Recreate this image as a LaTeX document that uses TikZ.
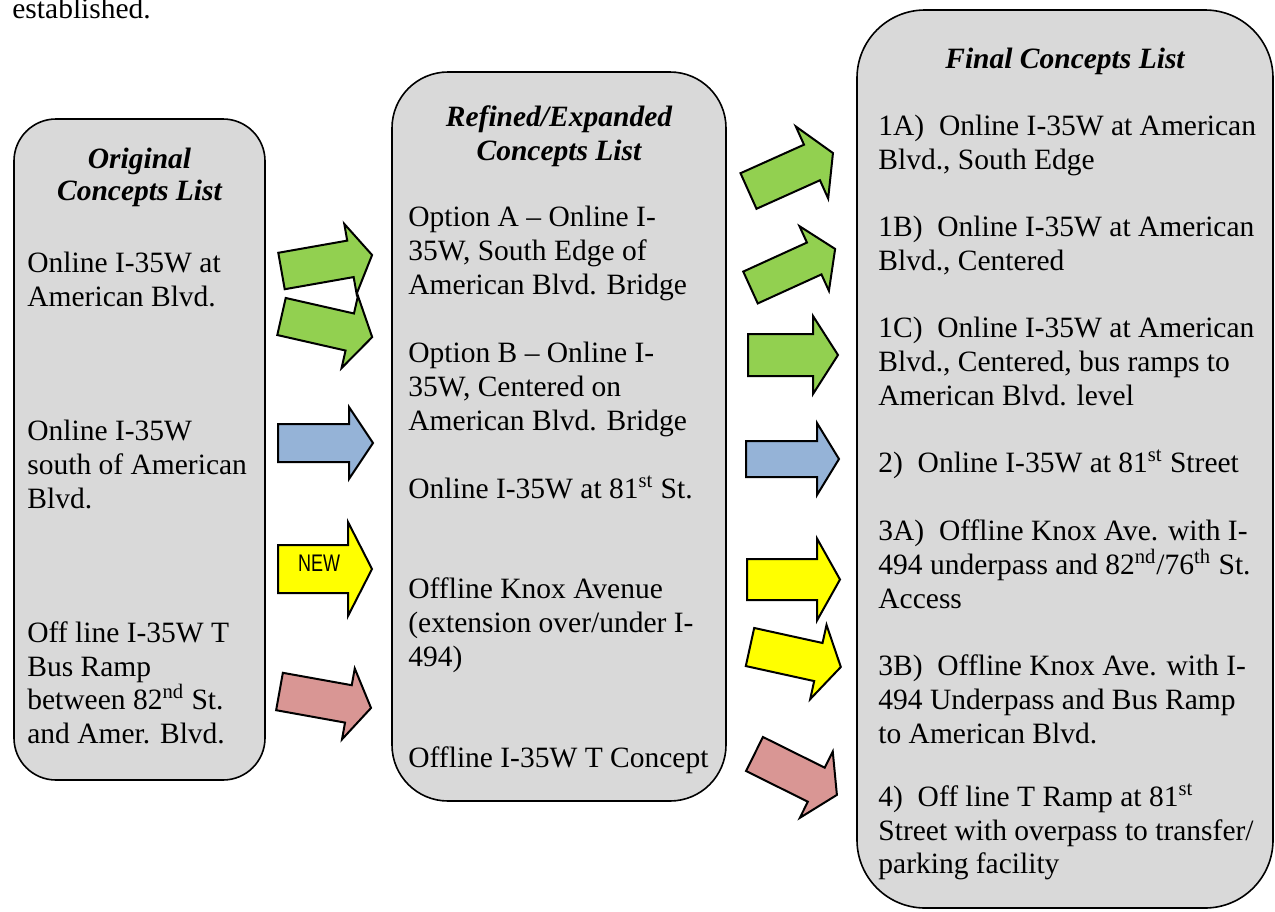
\documentclass[tikz,border=0pt]{standalone}
\usepackage{fontspec}
\setmainfont{Liberation Serif}
\newfontfamily\narrowsans[FakeStretch=0.75]{Liberation Sans}
\definecolor{boxgray}{HTML}{D9D9D9}
\definecolor{arrgreen}{HTML}{92D050}
\definecolor{arrblue}{HTML}{95B3D7}
\definecolor{arryellow}{HTML}{FFFF00}
\definecolor{arrpink}{HTML}{D99694}
% #1,#2 tail centre; #3 angle; #4 length; #5 shaft width; #6 head width; #7 head length; #8 colour
\newcommand{\blockarrow}[8]{%
  \begin{scope}[shift={(#1,#2)}, rotate=#3]
    \draw[arrline, fill=#8] (0,{-#5/2}) -- ({#4-#7},{-#5/2}) -- ({#4-#7},{-#6/2}) -- (#4,0)
      -- ({#4-#7},{#6/2}) -- ({#4-#7},{#5/2}) -- (0,{#5/2}) -- cycle;
  \end{scope}}
\begin{document}
\begin{tikzpicture}[x=0.5pt,y=-0.5pt,
  txt/.style={anchor=base west, inner sep=0pt, font=\fontsize{14.75}{17}\selectfont},
  hdr/.style={anchor=base, inner sep=0pt, font=\fontsize{14.75}{17}\selectfont\bfseries\itshape},
  panel/.style={draw=black, line width=0.8pt, fill=boxgray},
  arrline/.style={draw=black, line width=1pt, line join=miter},
]
\useasboundingbox (0,0) rectangle (1275,911);

% top text
\node[txt] (est) at (12,18) {established.};

% panels
\draw[panel, rounded corners=21pt] (14,119) rectangle (265,780);
\draw[panel, rounded corners=28pt] (392,72) rectangle (726,801);
\draw[panel, rounded corners=34pt] (857,10) rectangle (1273,908);

% left panel
\node[hdr] (lh1) at (139.5,168) {Original};
\node[hdr] (lh2) at (139.5,200) {Concepts List};
\node[txt] (l1a) at (27,272) {Online I-35W at};
\node[txt] (l1b) at (27,306) {American Blvd.};
\node[txt] (l2a) at (27,440) {Online I-35W};
\node[txt] (l2b) at (27,474) {south of American};
\node[txt] (l2c) at (27,508) {Blvd.};
\node[txt] (l3a) at (27,642) {Off line I-35W T};
\node[txt] (l3b) at (27,676) {Bus Ramp};
\node[txt] (l3c) at (27,709) {between 82\textsuperscript{nd} St.};
\node[txt] (l3d) at (27,743) {and Amer. Blvd.};

% middle panel
\node[hdr] (mh1) at (559,126) {Refined/Expanded};
\node[hdr] (mh2) at (559,160) {Concepts List};
\node[txt] (m1a) at (408,226) {Option A -- Online I-};
\node[txt] (m1b) at (408,260) {35W, South Edge of};
\node[txt] (m1c) at (408,294) {American Blvd. Bridge};
\node[txt] (m2a) at (408,362) {Option B -- Online I-};
\node[txt] (m2b) at (408,396) {35W, Centered on};
\node[txt] (m2c) at (408,430) {American Blvd. Bridge};
\node[txt] (m3a) at (408,498) {Online I-35W at 81\textsuperscript{st} St.};
\node[txt] (m4a) at (408,598) {Offline Knox Avenue};
\node[txt] (m4b) at (408,632) {(extension over/under I-};
\node[txt] (m4c) at (408,666) {494)};
\node[txt] (m5a) at (408,767) {Offline I-35W T Concept};

% right panel
\node[hdr] (rh1) at (1065,68) {Final Concepts List};
\node[txt] (r1a) at (878,135) {1A)\ \ Online I-35W at American};
\node[txt] (r1b) at (878,169) {Blvd., South Edge};
\node[txt] (r2a) at (878,236) {1B)\ \ Online I-35W at American};
\node[txt] (r2b) at (878,270) {Blvd., Centered};
\node[txt] (r3a) at (878,337) {1C)\ \ Online I-35W at American};
\node[txt] (r3b) at (878,371) {Blvd., Centered, bus ramps to};
\node[txt] (r3c) at (878,405) {American Blvd. level};
\node[txt] (r4a) at (878,472) {2)\ \ Online I-35W at 81\textsuperscript{st} Street};
\node[txt] (r5a) at (878,540) {3A)\ \ Offline Knox Ave. with I-};
\node[txt] (r5b) at (878,574) {494 underpass and 82\textsuperscript{nd}/76\textsuperscript{th} St.};
\node[txt] (r5c) at (878,608) {Access};
\node[txt] (r6a) at (878,675) {3B)\ \ Offline Knox Ave. with I-};
\node[txt] (r6b) at (878,709) {494 Underpass and Bus Ramp};
\node[txt] (r6c) at (878,743) {to American Blvd.};
\node[txt] (r7a) at (878,806) {4)\ \ Off line T Ramp at 81\textsuperscript{st}};
\node[txt] (r7b) at (878,840) {Street with overpass to transfer/};
\node[txt] (r7c) at (878,873) {parking facility};

% arrows left -> middle
\blockarrow{281.5}{271}{10}{92}{37}{71}{22}{arrgreen}
\blockarrow{281.5}{316.5}{-12.8}{93}{38}{74}{23}{arrgreen}
\blockarrow{278}{443}{0}{95}{38}{72}{24}{arrblue}
\blockarrow{278}{569}{0}{94}{48}{94}{24}{arryellow}
\blockarrow{279.5}{691.5}{-10.2}{93}{38}{72}{23}{arrpink}
\node[inner sep=0pt, font=\narrowsans\fontsize{12}{14}\selectfont] (newlbl) at (319,563) {NEW};

% arrows middle -> right
\blockarrow{748.5}{191}{24.2}{92.6}{39}{79}{23}{arrgreen}
\blockarrow{750.5}{287.5}{24.5}{93}{35}{71}{23}{arrgreen}
\blockarrow{748}{355}{0}{90}{42}{78}{25}{arrgreen}
\blockarrow{746}{459}{0}{93}{36}{72}{22}{arrblue}
\blockarrow{747}{579.5}{0}{93}{41}{82}{23}{arryellow}
\blockarrow{750}{647}{-12.4}{93}{39}{76}{23}{arryellow}
\blockarrow{754.5}{754}{-26.4}{92}{38}{74}{23}{arrpink}
\end{tikzpicture}
\end{document}
